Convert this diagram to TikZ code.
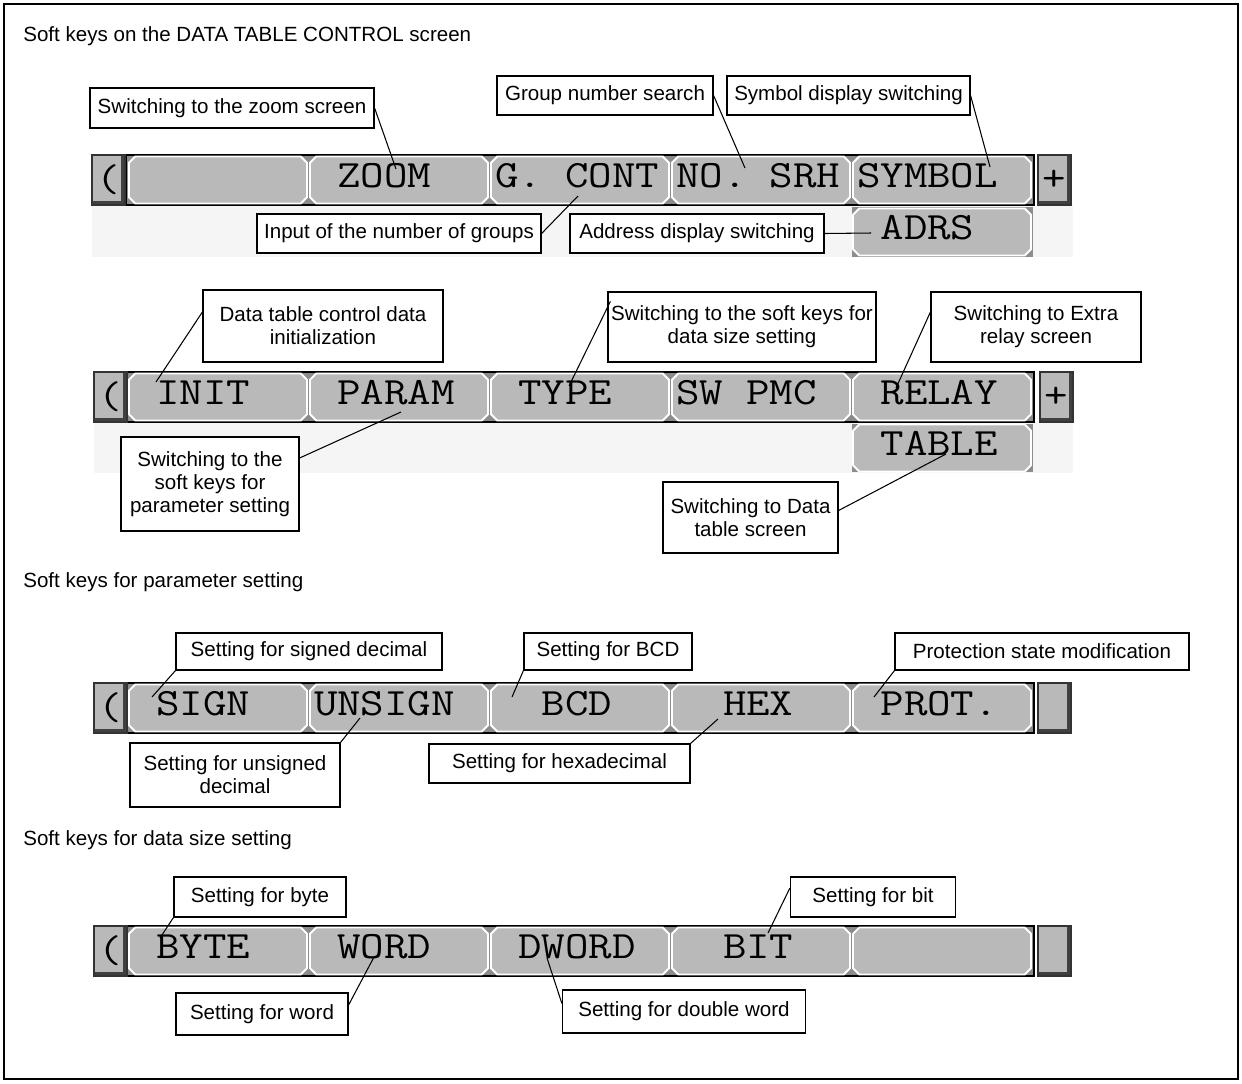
\documentclass[tikz,border=0pt]{standalone}
\usepackage{fontspec}
\setmainfont{Liberation Sans}
\newfontfamily\keyfont[FakeStretch=1.18]{Latin Modern Mono}
\usepackage{xcolor}
\usetikzlibrary{calc,shapes.misc}

\definecolor{keygray}{HTML}{B9B9B9}
\definecolor{bargray}{HTML}{8C8C8C}
\definecolor{padgray}{HTML}{F5F5F5}
\newcommand{\notefont}{\fontsize{11.7}{13.2}\selectfont}
\newcommand{\keytext}{\keyfont\fontsize{22}{24}\selectfont}
% one empty character cell of the key font
\newcommand{\cellgap}{\hphantom{0}}

\begin{document}
\begin{tikzpicture}[x=0.02cm, y=-0.02cm,
  note/.style={draw, fill=white, line width=0.7pt, align=center, inner sep=0pt, font=\notefont},
  softkey/.style={chamfered rectangle, chamfered rectangle xsep=1.8pt, chamfered rectangle ysep=1.8pt,
    draw=white, line width=1.1pt, fill=keygray, minimum width=3.56cm, minimum height=0.94cm,
    inner xsep=0pt, inner ysep=0pt, text width=3.4cm, align=left, text height=9pt, text depth=0pt,
    font=\keytext},
  sidekey/.style={draw=black!80, line width=0.6pt, fill=keygray, minimum width=0.66cm, minimum height=1cm,
    inner sep=0pt, font=\keytext,
    path picture={\draw[line width=4pt, black!75] (path picture bounding box.south west)
      -- (path picture bounding box.south east) -- (path picture bounding box.north east);}},
  bar/.style={fill=bargray, draw=black, line width=0.8pt},
  lead/.style={line width=0.6pt}]
\useasboundingbox (0,0) rectangle (1242,1083);
\draw[line width=0.8pt] (4,4) rectangle (1238,1079);

% headings
\node[anchor=west, font=\notefont, inner sep=0pt] (head1) at (23,36) {Soft keys on the DATA TABLE CONTROL screen};
\node[anchor=west, font=\notefont, inner sep=0pt] (head2) at (23,582) {Soft keys for parameter setting};
\node[anchor=west, font=\notefont, inner sep=0pt] (head3) at (23,840) {Soft keys for data size setting};

% light area under the first two key rows
\fill[padgray] (92,205) rectangle (1073,257);
\fill[padgray] (94,422) rectangle (1073,473);

% row 1
\draw[bar] (126,155) rectangle (1034,205);
\fill[bargray] (852,207) rectangle (1033,257);
\node[sidekey] (back1) at (108.5,180) {(};
\node[softkey] (blank1) at (218,180) {};
\node[softkey] (zoom) at (399,180) {\cellgap ZOOM};
\node[softkey] (gcont) at (580,180) {G.\cellgap CONT};
\node[softkey] (nosrh) at (761,180) {NO.\cellgap SRH};
\node[softkey] (symbol) at (942,180) {SYMBOL};
\node[sidekey] (next1) at (1054.5,180) {+};
\node[softkey] (adrs) at (942,232) {\cellgap ADRS};

% row 2
\draw[bar] (127,372) rectangle (1034,422);
\fill[bargray] (852,424) rectangle (1033,472);
\node[sidekey] (back2) at (110.5,397) {(};
\node[softkey] (init) at (218,397) {\cellgap INIT};
\node[softkey] (param) at (399,397) {\cellgap PARAM};
\node[softkey] (type) at (580,397) {\cellgap TYPE};
\node[softkey] (swpmc) at (761,397) {SW\cellgap PMC};
\node[softkey] (relay) at (942,397) {\cellgap RELAY};
\node[sidekey] (next2) at (1056.5,397) {+};
\node[softkey] (table) at (942,448) {\cellgap TABLE};

% row 3
\draw[bar] (127,683) rectangle (1034,733);
\node[sidekey] (back3) at (110.5,708) {(};
\node[softkey] (sign) at (218,708) {\cellgap SIGN};
\node[softkey] (unsign) at (399,708) {UNSIGN};
\node[softkey] (bcd) at (580,708) {\cellgap\cellgap BCD};
\node[softkey] (hex) at (761,708) {\cellgap\cellgap HEX};
\node[softkey] (prot) at (942,708) {\cellgap PROT.};
\node[sidekey] (next3) at (1054.5,708) {};

% row 4
\draw[bar] (127,926) rectangle (1034,976);
\node[sidekey] (back4) at (110.5,951) {(};
\node[softkey] (byte) at (218,951) {\cellgap BYTE};
\node[softkey] (word) at (399,951) {\cellgap WORD};
\node[softkey] (dword) at (580,951) {\cellgap DWORD};
\node[softkey] (bit) at (761,951) {\cellgap\cellgap BIT};
\node[softkey] (blank4) at (942,951) {};
\node[sidekey] (next4) at (1054.5,951) {};

% notes
\node[note, minimum width=5.68cm, minimum height=0.8cm] (zoomnote) at (232,108) {Switching to the zoom screen};
\node[note, minimum width=4.32cm, minimum height=0.78cm] (srchnote) at (605,95.5) {Group number search};
\node[note, minimum width=4.86cm, minimum height=0.78cm] (symnote) at (848.5,95.5) {Symbol display switching};
\node[note, minimum width=5.68cm, minimum height=0.78cm] (grpnote) at (399,233.5) {Input of the number of groups};
\node[note, minimum width=5.08cm, minimum height=0.78cm] (adrsnote) at (697,233.5) {Address display switching};

\node[note, minimum width=4.8cm, minimum height=1.44cm] (initnote) at (323,326) {Data table control data\\initialization};
\node[note, minimum width=5.36cm, minimum height=1.4cm] (typenote) at (742,327) {Switching to the soft keys for\\data size setting};
\node[note, minimum width=4.2cm, minimum height=1.4cm] (relaynote) at (1036,327) {Switching to Extra\\relay screen};
\node[note, minimum width=3.56cm, minimum height=1.88cm] (paramnote) at (210,484) {Switching to the\\soft keys for\\parameter setting};
\node[note, minimum width=3.5cm, minimum height=1.42cm] (tablenote) at (750.5,517.5) {Switching to Data\\table screen};

\node[note, minimum width=5.32cm, minimum height=0.74cm] (signnote) at (309,651.5) {Setting for signed decimal};
\node[note, minimum width=3.36cm, minimum height=0.74cm] (bcdnote) at (608,651.5) {Setting for BCD};
\node[note, minimum width=5.88cm, minimum height=0.74cm] (protnote) at (1042,651.5) {Protection state modification};
\node[note, minimum width=4.2cm, minimum height=1.28cm] (unsignnote) at (235,775) {Setting for unsigned\\decimal};
\node[note, minimum width=5.22cm, minimum height=0.78cm] (hexnote) at (559.5,763.5) {Setting for hexadecimal};

\node[note, minimum width=3.44cm, minimum height=0.8cm] (bytenote) at (260,897) {Setting for byte};
\node[note, minimum width=3.3cm, minimum height=0.8cm] (bitnote) at (873,897) {Setting for bit};
\node[note, minimum width=3.44cm, minimum height=0.84cm] (wordnote) at (262,1014) {Setting for word};
\node[note, minimum width=4.86cm, minimum height=0.86cm] (dwordnote) at (684,1011.5) {Setting for double word};

% where the leader lines touch the keys
\coordinate (zoomtip) at (396,169);
\coordinate (srchtip) at (745,168);
\coordinate (symtip) at (990,167);
\coordinate (gconttip) at (578,196);
\coordinate (adrstip) at (871,233);
\coordinate (inittip) at (156,382);
\coordinate (typetip) at (569,386);
\coordinate (relaytip) at (896,388);
\coordinate (paramtip) at (401,412);
\coordinate (tabletip) at (946,454);
\coordinate (signtip) at (152,697);
\coordinate (bcdtip) at (512,697);
\coordinate (prottip) at (874,697);
\coordinate (unsigntip) at (360,718);
\coordinate (hextip) at (718,719);
\coordinate (bytetip) at (160,938);
\coordinate (bittip) at (768,933);
\coordinate (wordtip) at (374,957);
\coordinate (dwordtip) at (547,958);

% leader lines
\draw[lead] (zoomnote.east) -- (zoomtip);
\draw[lead] (srchnote.east) -- (srchtip);
\draw[lead] (symnote.east) -- (symtip);
\draw[lead] (grpnote.east) -- (gconttip);
\draw[lead] (adrsnote.east) -- (adrstip);
\draw[lead] ($(initnote.west)+(0,-14)$) -- (inittip);
\draw[lead] ($(typenote.north west)+(3,10)$) -- (typetip);
\draw[lead] ($(relaynote.west)+(0,-15)$) -- (relaytip);
\draw[lead] ($(paramnote.east)+(0,-26)$) -- (paramtip);
\draw[lead] ($(tablenote.east)+(0,-7)$) -- (tabletip);
\draw[lead] (signnote.south west) -- (signtip);
\draw[lead] (bcdnote.south west) -- (bcdtip);
\draw[lead] (protnote.south west) -- (prottip);
\draw[lead] (unsignnote.north east) -- (unsigntip);
\draw[lead] (hexnote.north east) -- (hextip);
\draw[lead] (bytenote.south west) -- (bytetip);
\draw[lead] ($(bitnote.west)+(0,-9)$) -- (bittip);
\draw[lead] ($(wordnote.east)+(0,-9)$) -- (wordtip);
\draw[lead] ($(dwordnote.west)+(0,-8)$) -- (dwordtip);
\end{tikzpicture}
\end{document}
